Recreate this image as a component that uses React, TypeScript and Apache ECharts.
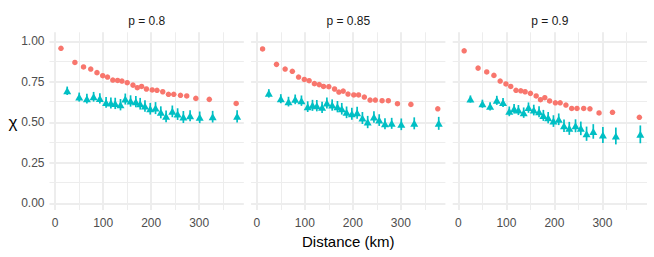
import React, { useEffect, useRef } from "react";
import * as echarts from "echarts";

const panelTitles = ["p = 0.8", "p = 0.85", "p = 0.9"];
const distRed = [12, 41, 59, 74, 87, 99, 109, 120, 130, 139, 150, 162, 171, 180, 190, 202, 212, 224, 236, 247, 261, 274, 293, 321, 377];
const distTeal = [25, 50, 66, 80, 93, 106, 116, 125, 136, 146, 157, 168, 177, 187, 198, 209, 220, 231, 244, 255, 267, 281, 301, 328, 379];

const red1 = [0.957, 0.870, 0.842, 0.829, 0.807, 0.788, 0.780, 0.761, 0.759, 0.755, 0.745, 0.730, 0.714, 0.722, 0.706, 0.700, 0.698, 0.689, 0.673, 0.673, 0.667, 0.663, 0.648, 0.642, 0.617];
const teal1 = [0.695, 0.656, 0.646, 0.658, 0.648, 0.623, 0.619, 0.617, 0.609, 0.644, 0.632, 0.628, 0.615, 0.601, 0.584, 0.588, 0.562, 0.537, 0.568, 0.551, 0.533, 0.541, 0.531, 0.535, 0.537];
const err1 = [0.026, 0.028, 0.03, 0.03, 0.032, 0.033, 0.034, 0.035, 0.035, 0.034, 0.035, 0.035, 0.036, 0.036, 0.036, 0.037, 0.037, 0.037, 0.036, 0.036, 0.037, 0.034, 0.036, 0.036, 0.038];

const red2 = [0.953, 0.858, 0.829, 0.815, 0.780, 0.765, 0.757, 0.739, 0.733, 0.722, 0.720, 0.706, 0.687, 0.693, 0.675, 0.669, 0.669, 0.656, 0.638, 0.638, 0.634, 0.634, 0.615, 0.611, 0.584];
const teal2 = [0.679, 0.646, 0.628, 0.642, 0.634, 0.597, 0.605, 0.603, 0.593, 0.619, 0.607, 0.597, 0.584, 0.562, 0.553, 0.560, 0.527, 0.502, 0.533, 0.514, 0.492, 0.494, 0.488, 0.494, 0.494];
const err2 = [0.026, 0.028, 0.03, 0.03, 0.032, 0.033, 0.034, 0.035, 0.035, 0.034, 0.035, 0.035, 0.036, 0.036, 0.037, 0.037, 0.037, 0.038, 0.036, 0.036, 0.034, 0.034, 0.036, 0.037, 0.04];

const red3 = [0.942, 0.835, 0.811, 0.790, 0.755, 0.737, 0.722, 0.698, 0.695, 0.689, 0.679, 0.663, 0.640, 0.652, 0.632, 0.621, 0.621, 0.607, 0.586, 0.586, 0.586, 0.584, 0.558, 0.562, 0.531];
const teal3 = [0.644, 0.615, 0.599, 0.636, 0.623, 0.568, 0.584, 0.576, 0.560, 0.591, 0.576, 0.566, 0.543, 0.529, 0.508, 0.519, 0.479, 0.463, 0.479, 0.463, 0.430, 0.444, 0.422, 0.416, 0.426];
const err3 = [0.022, 0.025, 0.025, 0.028, 0.028, 0.03, 0.03, 0.031, 0.032, 0.032, 0.033, 0.034, 0.034, 0.035, 0.036, 0.036, 0.038, 0.04, 0.04, 0.042, 0.044, 0.045, 0.05, 0.052, 0.055];

const xTicks = [0, 100, 200, 300];
const xMinor = [50, 150, 250, 350];
const yTicks = [0, 0.25, 0.5, 0.75, 1];
const yMinor = [0.125, 0.375, 0.625, 0.875];

const reds = [red1, red2, red3];
const teals = [teal1, teal2, teal3];
const errs = [err1, err2, err3];

const RED = "#F8766D";
const TEAL = "#00BFC4";
const FONT = "Liberation Sans, Arial, sans-serif";

export default function App() {
  const ref = useRef<HTMLDivElement>(null);
  useEffect(() => {
    if (!ref.current) return;
    const chart = echarts.init(ref.current, undefined, { renderer: "svg" });
    const lefts = [49.5, 251.1, 452.7];
    const W = 194.3;
    const top = 32.3;
    const H = 177.7;
    const grids: any[] = [];
    const xAxes: any[] = [];
    const yAxes: any[] = [];
    const series: any[] = [];
    const graphics: any[] = [];
    for (let i = 0; i < 3; i++) {
      grids.push({ left: lefts[i], top, width: W, height: H, outerBoundsMode: "none", containLabel: false });
      xAxes.push({
        type: "value", gridIndex: i, min: -11.9, max: 392.9,
        axisLine: { show: false }, axisTick: { show: false }, splitLine: { show: false },
        axisLabel: { customValues: xTicks, color: "#4D4D4D", fontSize: 12, fontFamily: FONT, margin: 7 },
      });
      yAxes.push({
        type: "value", gridIndex: i, min: -0.041, max: 1.056,
        axisLine: { show: false }, axisTick: { show: false }, splitLine: { show: false },
        axisLabel: {
          show: i === 0, customValues: yTicks, color: "#4D4D4D", fontSize: 12, fontFamily: FONT, margin: 5,
          formatter: (v: number) => v.toFixed(2),
        },
      });
      const mlData: any[] = [];
      yMinor.forEach((v) => mlData.push({ yAxis: v, lineStyle: { width: 1 } }));
      xMinor.forEach((v) => mlData.push({ xAxis: v, lineStyle: { width: 1 } }));
      yTicks.forEach((v) => mlData.push({ yAxis: v, lineStyle: { width: 2 } }));
      xTicks.forEach((v) => mlData.push({ xAxis: v, lineStyle: { width: 2 } }));
      series.push({
        type: "scatter", xAxisIndex: i, yAxisIndex: i, data: [], z: 0, silent: true,
        markLine: {
          silent: true, z: 0, symbol: ["none", "none"], label: { show: false },
          lineStyle: { color: "#EDEDED", type: "solid" }, animation: false, data: mlData,
          emphasis: { disabled: true },
        },
      });
      const tealData = distTeal.map((d, k) => [d, teals[i][k], errs[i][k]]);
      series.push({
        type: "custom", xAxisIndex: i, yAxisIndex: i, z: 3, silent: true,
        data: tealData,
        renderItem: (params: any, api: any) => {
          const x = api.value(0);
          const y = api.value(1);
          const e = api.value(2);
          const p1 = api.coord([x, y - e]);
          const p2 = api.coord([x, y + e]);
          return {
            type: "line",
            shape: { x1: p1[0], y1: p1[1], x2: p2[0], y2: p2[1] },
            style: { stroke: TEAL, lineWidth: 1.7 },
          };
        },
      });
      series.push({
        type: "scatter", xAxisIndex: i, yAxisIndex: i, z: 4, silent: true,
        symbol: "triangle", symbolSize: [8, 7],
        itemStyle: { color: TEAL, opacity: 1 },
        data: distTeal.map((d, k) => [d, teals[i][k]]),
      });
      series.push({
        type: "scatter", xAxisIndex: i, yAxisIndex: i, z: 4, silent: true,
        symbol: "circle", symbolSize: 5.5,
        itemStyle: { color: RED, opacity: 1 },
        data: distRed.map((d, k) => [d, reds[i][k]]),
      });
      graphics.push({
        type: "text", x: lefts[i] + W / 2, y: 21,
        style: { text: panelTitles[i], fill: "#1A1A1A", font: `12px ${FONT}`, textAlign: "center", textVerticalAlign: "middle" },
      });
    }
    graphics.push({
      type: "text", x: lefts[1] + W / 2, y: 241,
      style: { text: "Distance (km)", fill: "#000000", font: `15px ${FONT}`, textAlign: "center", textVerticalAlign: "middle" },
    });
    graphics.push({
      type: "text", x: 13, y: 122,
      style: { text: "χ", fill: "#000000", font: `17px ${FONT}`, textAlign: "center", textVerticalAlign: "middle" },
    });
    chart.setOption({
      animation: false,
      backgroundColor: "#FFFFFF",
      grid: grids,
      xAxis: xAxes,
      yAxis: yAxes,
      series,
      graphic: graphics,
    });
    return () => chart.dispose();
  }, []);
  return <div ref={ref} style={{ position: "absolute", left: 0, top: 0, width: 654, height: 257 }} />;
}
